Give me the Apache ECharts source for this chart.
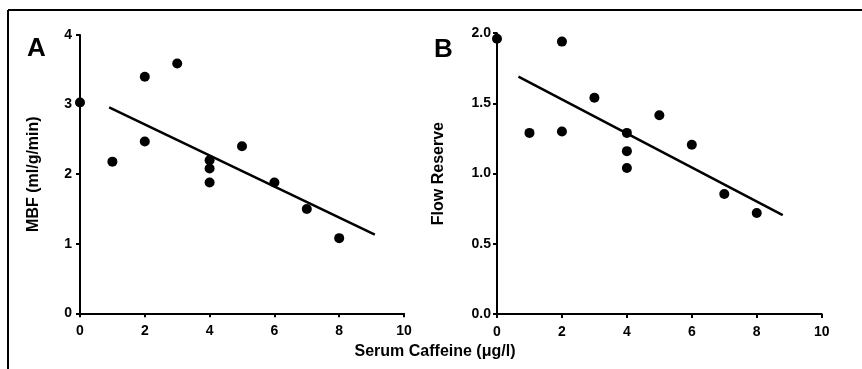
<!DOCTYPE html>
<html>
<head>
<meta charset="utf-8">
<script src="https://cdn.jsdelivr.net/npm/echarts@6/dist/echarts.min.js"></script>
<style>
html,body{margin:0;padding:0;background:#fff;}
#c{width:862px;height:369px;}
</style>
</head>
<body>
<div id="c"></div>
<script>
// Panel A: MBF vs serum caffeine
var caffeineA = [0, 1, 2, 2, 3, 4, 4, 4, 5, 6, 7, 8];
var mbfA      = [3.03, 2.18, 3.40, 2.47, 3.59, 2.20, 2.08, 1.88, 2.40, 1.88, 1.50, 1.08];
var fitAx = [0.9, 9.1];
var fitAy = [2.96, 1.13];

// Panel B: flow reserve vs serum caffeine
var caffeineB = [0, 1, 2, 2, 3, 4, 4, 4, 5, 6, 7, 8];
var reserveB  = [1.96, 1.29, 1.94, 1.30, 1.54, 1.29, 1.16, 1.04, 1.415, 1.205, 0.855, 0.72];
var fitBx = [0.66, 8.8];
var fitBy = [1.69, 0.705];

var xTicks = [0, 2, 4, 6, 8, 10];
var yTicksA = ['0', '1', '2', '3', '4'];
var yTicksB = ['0.0', '0.5', '1.0', '1.5', '2.0'];

function pairs(xs, ys) { return xs.map(function (x, i) { return [x, ys[i]]; }); }

var FONT = '"Liberation Sans", Arial, Helvetica, sans-serif';
var axisLine = { lineStyle: { color: '#000', width: 2 } };
var axisTick = { show: true, length: 4, lineStyle: { color: '#000', width: 2 } };
var lblStyle = { color: '#000', fontSize: 14, fontWeight: 'bold', fontFamily: FONT };

function xAxisCfg(gi) {
  return {
    type: 'value', gridIndex: gi, min: 0, max: 10, interval: 2,
    axisLine: axisLine, axisTick: axisTick, splitLine: { show: false },
    axisLabel: Object.assign({ margin: 11, formatter: function (v) { return xTicks.indexOf(v) >= 0 ? String(v) : ''; } }, lblStyle)
  };
}

var chart = echarts.init(document.getElementById('c'));
chart.setOption({
  animation: false,
  backgroundColor: '#fff',
  grid: [
    { left: 80, top: 35, width: 324, height: 278.3 },
    { left: 497, top: 33.2, width: 324.7, height: 280.8 }
  ],
  xAxis: [xAxisCfg(0), xAxisCfg(1)],
  yAxis: [
    {
      type: 'value', gridIndex: 0, min: 0, max: 4, interval: 1,
      axisLine: axisLine, axisTick: axisTick, splitLine: { show: false },
      axisLabel: Object.assign({ margin: 8, formatter: function (v) { return yTicksA[Math.round(v)]; } }, lblStyle),
      name: 'MBF (ml/g/min)', nameLocation: 'middle', nameGap: 38,
      nameTextStyle: { color: '#000', fontSize: 16, fontWeight: 'bold', fontFamily: FONT }
    },
    {
      type: 'value', gridIndex: 1, min: 0, max: 2, interval: 0.5,
      axisLine: axisLine, axisTick: axisTick, splitLine: { show: false },
      axisLabel: Object.assign({ margin: 6, formatter: function (v) { return yTicksB[Math.round(v * 2)]; } }, lblStyle),
      name: 'Flow Reserve', nameLocation: 'middle', nameGap: 50,
      nameTextStyle: { color: '#000', fontSize: 16, fontWeight: 'bold', fontFamily: FONT }
    }
  ],
  series: [
    { type: 'scatter', xAxisIndex: 0, yAxisIndex: 0, data: pairs(caffeineA, mbfA), symbolSize: 10, itemStyle: { color: '#000', opacity: 1 }, z: 3 },
    { type: 'line', xAxisIndex: 0, yAxisIndex: 0, data: pairs(fitAx, fitAy), symbol: 'none', lineStyle: { color: '#000', width: 2.5 }, z: 2 },
    { type: 'scatter', xAxisIndex: 1, yAxisIndex: 1, data: pairs(caffeineB, reserveB), symbolSize: 10, itemStyle: { color: '#000', opacity: 1 }, z: 3 },
    { type: 'line', xAxisIndex: 1, yAxisIndex: 1, data: pairs(fitBx, fitBy), symbol: 'none', lineStyle: { color: '#000', width: 2.5 }, z: 2 }
  ],
  graphic: [
    { type: 'line', shape: { x1: 8, y1: 10, x2: 862, y2: 10 }, style: { stroke: '#000', lineWidth: 2 } },
    { type: 'line', shape: { x1: 8, y1: 10, x2: 8, y2: 369 }, style: { stroke: '#000', lineWidth: 2 } },
    { type: 'text', left: 27, top: 36, style: { text: 'A', fill: '#000', font: 'bold 26px ' + FONT } },
    { type: 'text', left: 434, top: 37, style: { text: 'B', fill: '#000', font: 'bold 26px ' + FONT } },
    { type: 'text', x: 435, y: 352, style: { text: 'Serum Caffeine (\u03bcg/l)', fill: '#000', font: 'bold 16px ' + FONT, textAlign: 'center', textVerticalAlign: 'middle' } }
  ]
});
</script>
</body>
</html>
